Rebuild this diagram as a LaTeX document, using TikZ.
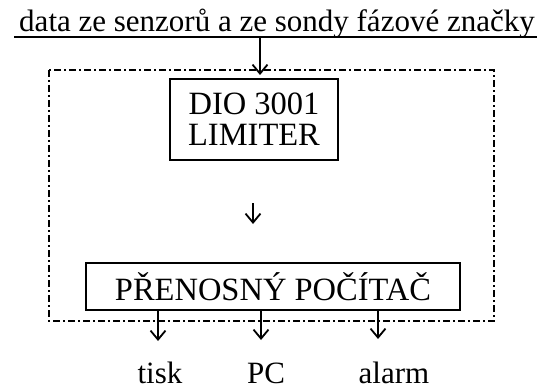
\documentclass[tikz,border=0pt]{standalone}
\usepackage{fontspec}
\setmainfont{Liberation Serif}
\usetikzlibrary{arrows.meta,calc}

\begin{document}
\begin{tikzpicture}[
    x=1pt, y=-1pt,
    box/.style={draw=black, line width=2.2pt, rectangle, inner sep=0pt},
    frame/.style={draw=black, line width=2.2pt,
      dash pattern=on 7pt off 3pt on 2pt off 3pt},
    feed/.style={draw=black, line width=1.8pt,
      -{Straight Barb[length=9pt,width=15pt,line width=1.8pt]}},
    txt/.style={font=\fontsize{31}{29}\selectfont, inner sep=0pt},
    big/.style={font=\fontsize{32.5}{31}\selectfont, inner sep=0pt},
]
\useasboundingbox (0,0) rectangle (548,390);

% ---------------------------------------------------------
% Input from the sensors
% ---------------------------------------------------------
\node[txt, anchor=base] (src) at (277,32)
  {data ze senzorů a ze sondy fázové značky};
\draw[line width=1.6pt] ([xshift=-5pt,yshift=-5pt]src.base west)
  -- ([xshift=2pt,yshift=-5pt]src.base east);

\coordinate (inTop) at (260,37);
\coordinate (inEnd) at (260,75);
\draw[feed] (inTop) -- (inEnd);

% ---------------------------------------------------------
% Measuring unit
% ---------------------------------------------------------
\draw[frame] (49,70) rectangle (494,321);

\node[box, big, align=center, minimum width=168pt, minimum height=81pt]
  (dio) at (254,119.5) {DIO 3001\\LIMITER};

\coordinate (midTop) at (253,203);
\coordinate (midEnd) at (253,224);
\draw[feed] (midTop) -- (midEnd);

\node[box, big, minimum width=374pt, minimum height=47pt]
  (pc) at (273,286.5) {PŘENOSNÝ POČÍTAČ};

% ---------------------------------------------------------
% Outputs
% ---------------------------------------------------------
\node[txt, anchor=base] (tisk) at (160,383) {tisk};
\node[txt, anchor=base] (pcout) at (266,383) {PC};
\node[txt, anchor=base] (alarm) at (394,383) {alarm};

\coordinate (tiskEnd) at (158,341);
\coordinate (pcEnd) at (261,340);
\coordinate (alarmEnd) at (378,339);
\draw[feed, line width=2.6pt] (pc.south -| tiskEnd) -- (tiskEnd);
\draw[feed] (pc.south -| pcEnd) -- (pcEnd);
\draw[feed] (pc.south -| alarmEnd) -- (alarmEnd);

\end{tikzpicture}
\end{document}
